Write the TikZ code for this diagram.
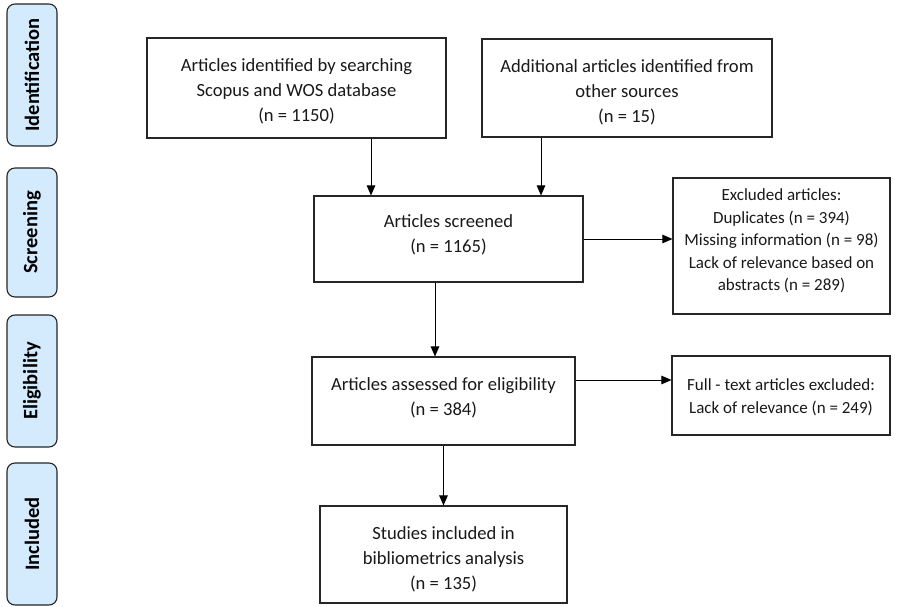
\documentclass[tikz,border=0pt]{standalone}
\usepackage{fontspec}
\setmainfont{Carlito}
\usetikzlibrary{arrows.meta}
\definecolor{phasefill}{HTML}{D3EBFD}
\begin{document}
\begin{tikzpicture}[x=1pt,y=-1pt,
  flowbox/.style={draw=black!85, line width=1.1pt, fill=white, inner sep=0pt},
  boxtext/.style={align=center, font=\fontsize{18.6}{25}\selectfont, inner sep=0pt, text=black!90},
  notetext/.style={boxtext, font=\fontsize{17}{22.6}\selectfont},
  phase/.style={draw=black!85, line width=1.1pt, fill=phasefill, rounded corners=8pt,
    minimum width=50pt, inner sep=0pt},
  phasetext/.style={rotate=90, font=\fontsize{20.5}{22}\selectfont\bfseries},
  arr/.style={-{Triangle[length=10pt,width=8.5pt]}, line width=1pt, black}]
\useasboundingbox (0,0) rectangle (902,607);

% phase labels on the left
\node[phase, minimum height=142pt] (pid) at (32,75) {};
\node[phasetext] (tid) at (pid) {Identification};
\node[phase, minimum height=129pt] (psc) at (32,232.5) {};
\node[phasetext] (tsc) at (psc) {Screening};
\node[phase, minimum height=132pt] (pel) at (32,381) {};
\node[phasetext] (tel) at (pel) {Eligibility};
\node[phase, minimum height=142pt] (pin) at (32,534) {};
\node[phasetext] (tin) at (pin) {Included};

% flow boxes (text placed as a centred label, nudged vertically)
\node[flowbox, minimum width=299pt, minimum height=100pt,
  label={[boxtext, yshift=-3pt]center:{Articles identified by searching\\Scopus and WOS database\\(n = 1150)}}]
  (A) at (296.5,88) {};
\node[flowbox, minimum width=290pt, minimum height=98pt,
  label={[boxtext, yshift=-4.5pt]center:{Additional articles identified from\\other sources\\(n = 15)}}]
  (B) at (627,88) {};
\node[flowbox, minimum width=269pt, minimum height=86pt,
  label={[boxtext, yshift=4pt]center:{Articles screened\\(n = 1165)}}]
  (C) at (448.5,239) {};
\node[flowbox, minimum width=217pt, minimum height=136pt,
  label={[notetext, yshift=5pt]center:{Excluded articles:\\Duplicates (n = 394)\\Missing information (n = 98)\\Lack of relevance based on\\abstracts (n = 289)}}]
  (D) at (781.5,246) {};
\node[flowbox, minimum width=263pt, minimum height=88pt,
  label={[boxtext, yshift=3.5pt]center:{Articles assessed for eligibility\\(n = 384)}}]
  (E) at (443.5,401) {};
\node[flowbox, minimum width=218pt, minimum height=79pt,
  label={[notetext, yshift=-1.5pt]center:{Full - text articles excluded:\\Lack of relevance (n = 249)}}]
  (F) at (781,395.5) {};
\node[flowbox, minimum width=247pt, minimum height=97pt,
  label={[boxtext, yshift=-4.5pt]center:{Studies included in\\bibliometrics analysis\\(n = 135)}}]
  (G) at (443.5,554.5) {};

% connectors
\draw[arr] ([xshift=74.5pt]A.south) -- ([xshift=74.5pt]A.south |- C.north);
\draw[arr] ([xshift=-86pt]B.south) -- ([xshift=-86pt]B.south |- C.north);
\draw[arr] (C.east) -- (C.east -| D.west);
\draw[arr] ([xshift=-13.5pt]C.south) -- ([xshift=-13.5pt]C.south |- E.north);
\draw[arr] ([yshift=21pt]E.east) -- ([yshift=21pt]E.east -| F.west);
\draw[arr] (E.south) -- (G.north);
\end{tikzpicture}
\end{document}
